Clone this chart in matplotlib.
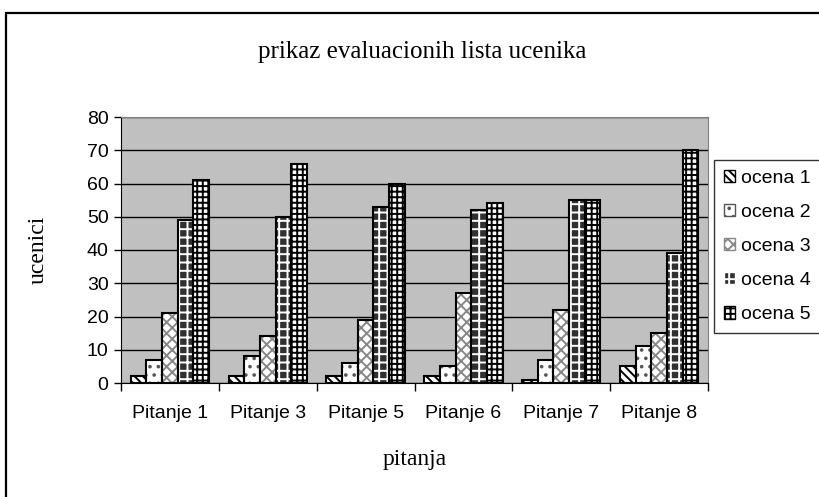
import matplotlib.pyplot as plt
import matplotlib.patches as mpatches
import numpy as np

plt.rcParams['hatch.linewidth'] = 1.4

pitanja = ['Pitanje 1', 'Pitanje 3', 'Pitanje 5', 'Pitanje 6', 'Pitanje 7', 'Pitanje 8']
ocena1 = [2, 2, 2, 2, 1, 5]
ocena2 = [7, 8, 6, 5, 7, 11]
ocena3 = [21, 14, 19, 27, 22, 15]
ocena4 = [49, 50, 53, 52, 55, 39]
ocena5 = [61, 66, 60, 54, 55, 70]

serije = [ocena1, ocena2, ocena3, ocena4, ocena5]
imena = ['ocena 1', 'ocena 2', 'ocena 3', 'ocena 4', 'ocena 5']
# (boja, srafura, boja srafure)
stilovi = [('white', '\\\\\\\\', 'black'),
           ('white', '..', '#555555'),
           ('white', 'xxx', '#888888'),
           ('#303030', '++', 'white'),
           ('white', '+++', 'black')]

fig = plt.figure(figsize=(8.19, 4.97), dpi=100)
ax = fig.add_axes([121/819, 1-383/497, 587/819, 266/497])
ax.set_facecolor('#c0c0c0')

x = np.arange(len(pitanja))
w = 0.16
handles = []
for i, (vals, ime, (fc, h, hc)) in enumerate(zip(serije, imena, stilovi)):
    pos = x - 2*w + i*w
    ax.bar(pos, vals, w, color=fc, hatch=h, edgecolor=hc, linewidth=0, zorder=3)
    ax.bar(pos, vals, w, color='none', edgecolor='black', linewidth=1.5, zorder=4)
    handles.append(mpatches.Patch(facecolor=fc, hatch=h, edgecolor=hc))

ax.set_xlim(-0.5, len(pitanja) - 0.5)
ax.set_ylim(0, 80)
ax.set_yticks(range(0, 81, 10))
ax.yaxis.grid(True, color='black', linewidth=1)
ax.set_axisbelow(True)
ax.set_xticks(x)
ax.set_xticklabels(pitanja, fontfamily='Liberation Sans', fontsize=14)
ax.set_xticks(np.arange(-0.5, len(pitanja)), minor=True)
ax.tick_params(axis='x', which='major', length=0, pad=16)
ax.tick_params(axis='x', which='minor', length=6, width=1, direction='out')
ax.tick_params(axis='y', length=5, width=1, direction='out', pad=4)
for t in ax.get_yticklabels():
    t.set_fontfamily('Liberation Sans')
    t.set_fontsize(14)

for s in ['top', 'right']:
    ax.spines[s].set_color('#808080')
ax.spines['left'].set_color('black')
ax.spines['bottom'].set_color('black')

ax.set_ylabel('ucenici', fontfamily='Liberation Serif', fontsize=17, labelpad=27)
ax.set_xlabel('pitanja', fontfamily='Liberation Serif', fontsize=17, labelpad=19)
fig.text(422/819, 1-52/497, 'prikaz evaluacionih lista ucenika',
         fontfamily='Liberation Serif', fontsize=18, ha='center', va='center')

leg = fig.legend(handles, imena, loc='upper left', bbox_to_anchor=(714/819, 1-160/497),
                 borderaxespad=0,
                 prop={'family': 'Liberation Sans', 'size': 14}, frameon=True,
                 fancybox=False, edgecolor='black', handlelength=0.6, handleheight=0.6,
                 handletextpad=0.3, labelspacing=0.88, borderpad=0.5)
leg.get_frame().set_linewidth(1.0)

okvir = mpatches.Rectangle((6/819, -0.1), 2.0, 1.1 - 13/497, transform=fig.transFigure,
                           fill=False, edgecolor='black', linewidth=1.6)
fig.patches.append(okvir)

fig.savefig('out.png', dpi=100)
